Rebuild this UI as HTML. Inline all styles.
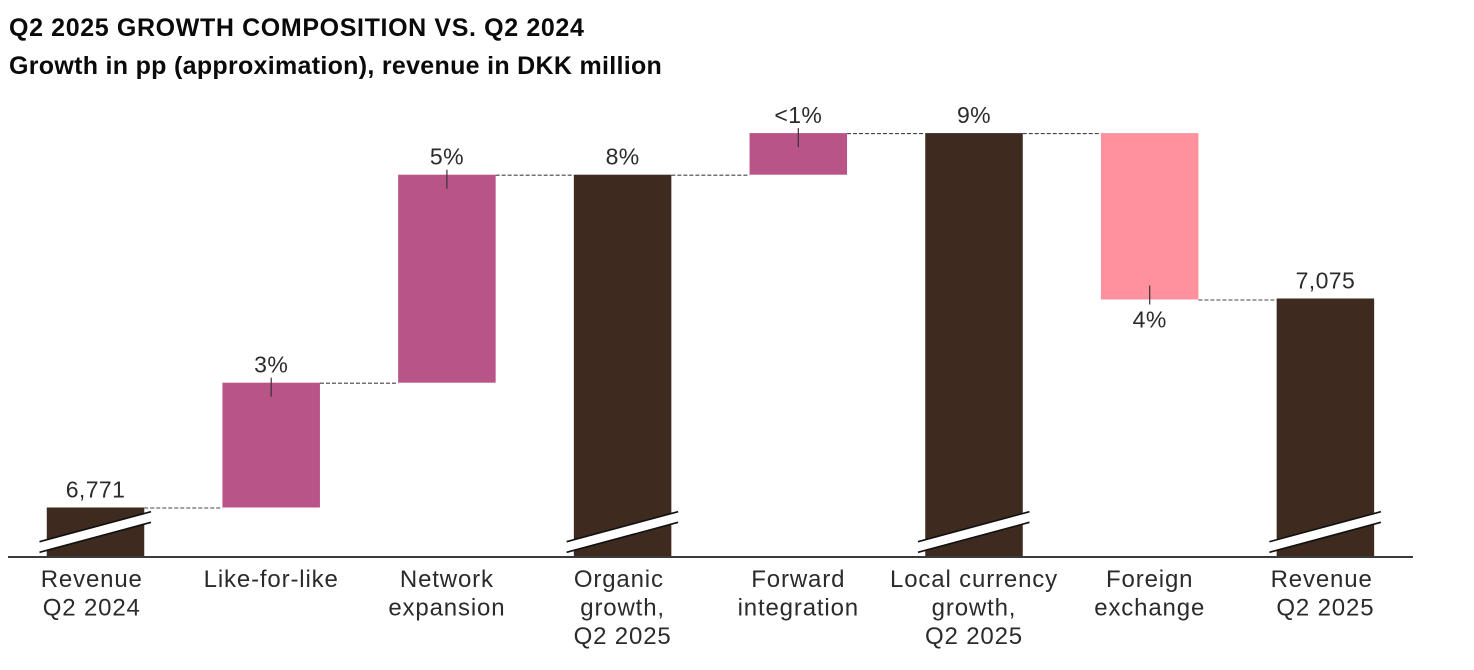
<!DOCTYPE html>
<html lang="en">
<head>
<meta charset="utf-8">
<title>Q2 2025 growth composition</title>
<style>
html,body{margin:0;padding:0;background:#fff;}
svg{display:block;}
text{font-family:"Liberation Sans",sans-serif;}
.title{font-size:25px;font-weight:bold;fill:#0a0a0a;letter-spacing:.63px;}
.subtitle{font-size:25px;font-weight:bold;fill:#0a0a0a;letter-spacing:.3px;}
.lbl{font-size:24px;fill:#2b2b2b;text-anchor:middle;letter-spacing:.85px;}
.val{font-size:23px;fill:#2b2b2b;text-anchor:middle;letter-spacing:.4px;}
</style>
</head>
<body>
<svg id="chart" width="1474" height="670" viewBox="0 0 1474 670" xmlns="http://www.w3.org/2000/svg">
  <rect width="1474" height="670" fill="#ffffff"/>
  <text class="title" x="9" y="36">Q2 2025 GROWTH COMPOSITION VS. Q2 2024</text>
  <text class="subtitle" x="9" y="74">Growth in pp (approximation), revenue in DKK million</text>
  <g id="marks"></g>
</svg>
<script>
const categories = [["Revenue\u00a0","Q2 2024\u00a0"],["Like-for-like"],["Network","expansion"],["Organic\u00a0","growth,","Q2 2025"],["Forward","integration"],["Local currency","growth,","Q2 2025"],["Foreign","exchange"],["Revenue\u00a0","Q2 2025"]];
const barKinds = ["revenue","step","step","total","step","total","fall","revenue"];
const seriesValues = [6771,3,5,8,1,9,-4,7075];
const valueLabels = ["6,771","3%","5%","8%","<1%","9%","4%","7,075"];

const NS = "http://www.w3.org/2000/svg";
const root = document.getElementById("marks");
const baselineY = 557;
const zeroY = 507.5;
const pxPerPoint = 41.6;
const pxPerDkk = 0.6875;
const firstCenter = 95.5;
const bandStep = 175.7;
const barWidth = 97.5;
const colors = {revenue:"#3e2a1e", total:"#3e2a1e", step:"#b85488", fall:"#ff919f"};

function xCenter(i){ return firstCenter + bandStep * i; }
function yPoints(p){ return zeroY - p * pxPerPoint; }
function yRevenue(r){ return zeroY - (r - seriesValues[0]) * pxPerDkk; }

function add(tag, attrs, parent){
  const el = document.createElementNS(NS, tag);
  for (const k in attrs) el.setAttribute(k, attrs[k]);
  (parent || root).appendChild(el);
  return el;
}

// compute bar extents
let running = 0;
const extents = seriesValues.map(function(v, i){
  const kind = barKinds[i];
  if (kind === "revenue") {
    const y = yRevenue(v);
    return {top:y, bottom:baselineY, level:y};
  }
  if (kind === "total") {
    running = v;
    const y = yPoints(v);
    return {top:y, bottom:baselineY, level:y};
  }
  const a = yPoints(running);
  running += v;
  const b = yPoints(running);
  return {top:Math.min(a,b), bottom:Math.max(a,b), level:b};
});

// connectors
extents.forEach(function(e, i){
  if (i === extents.length - 1) return;
  const c = add("line", {x1:xCenter(i)+barWidth/2, x2:xCenter(i+1)-barWidth/2, y1:e.level+0.5, y2:e.level+0.5, stroke:"#444444", "stroke-width":1.1, "stroke-dasharray":"4 2"});
  
  
});

// bars
extents.forEach(function(e, i){
  const kind = barKinds[i];
  const bar = add("rect", {x:xCenter(i)-barWidth/2, y:e.top, width:barWidth, height:e.bottom-e.top, fill:colors[kind]});
  
  
});

// axis break marks on full-height bars
extents.forEach(function(e, i){
  const kind = barKinds[i];
  if (kind !== "revenue" && kind !== "total") return;
  const x1 = xCenter(i)-56, x2 = xCenter(i)+55.5;
  const band = add("polygon", {points:[x1,541.7,x2,511.7,x2,522.3,x1,552.3].join(" "), fill:"#ffffff"});
  
  
  [[541.7,511.7],[552.3,522.3]].forEach(function(p){
    const l = add("line", {x1:x1, x2:x2, y1:p[0], y2:p[1], stroke:"#111111", "stroke-width":1.6});
    
    
  });
});

// x axis
const axis = add("line", {x1:8, x2:1413, y1:baselineY, y2:baselineY, stroke:"#3a3a3a", "stroke-width":2});



// leader ticks and value labels
extents.forEach(function(e, i){
  const kind = barKinds[i];
  const isFall = kind === "fall";
  if (kind === "step" || isFall) {
    const t = add("line", {
      x1:xCenter(i), x2:xCenter(i),
      y1:isFall ? e.bottom-14 : e.top-5,
      y2:isFall ? e.bottom+5 : e.top+14,
      stroke:"#333333", "stroke-width":1.2
    });
    
    
  }
  const v = add("text", {x:xCenter(i), y:isFall ? e.bottom+28 : e.top-10, "class":"val"});
  v.textContent = valueLabels[i];
  
  
});

// category labels
categories.forEach(function(lines, i){
  lines.forEach(function(line, j){
    const c = add("text", {x:xCenter(i), y:587 + j * 28.5, "class":"lbl"});
    c.textContent = line;
    
    
  });
});
</script>
</body>
</html>
